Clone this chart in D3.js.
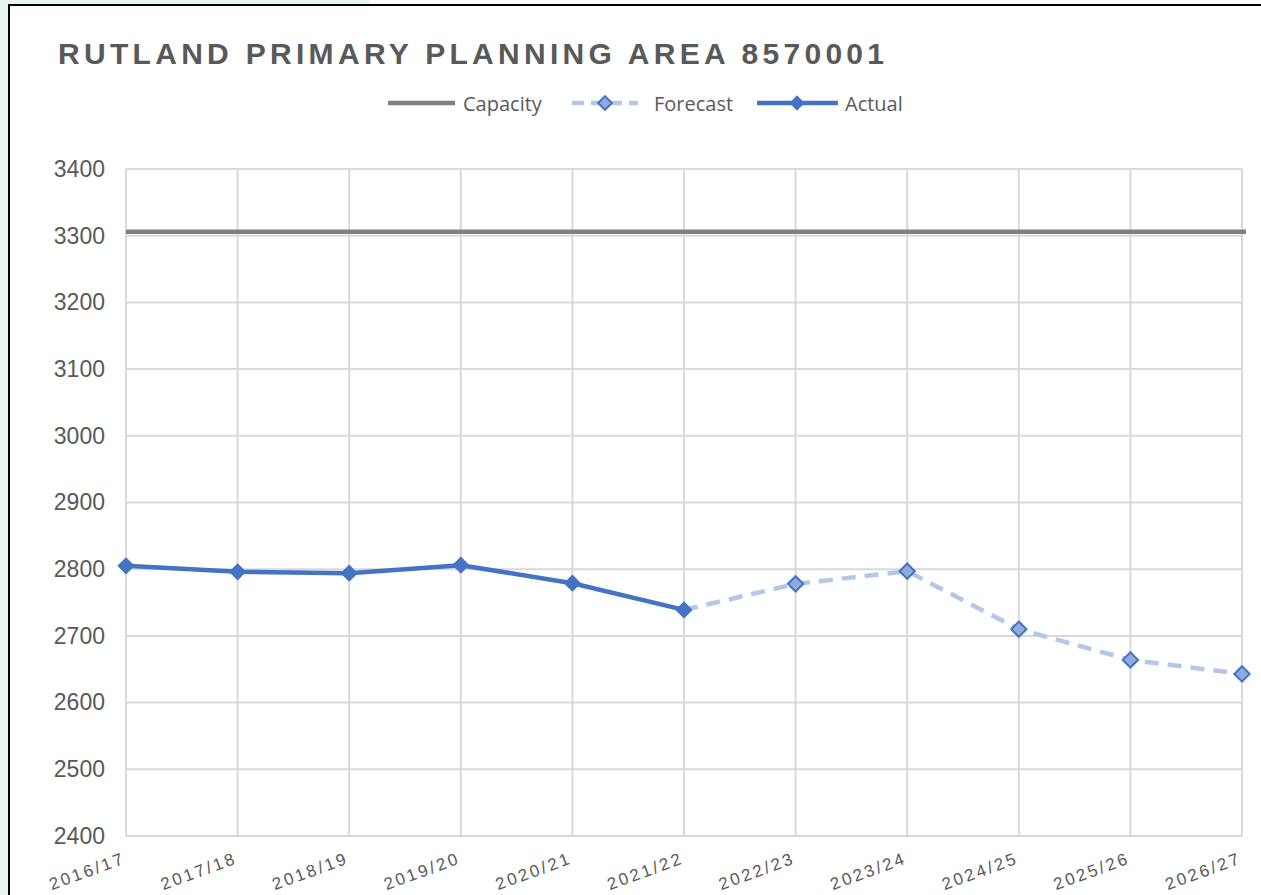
<!DOCTYPE html>
<html>
<head>
<meta charset="utf-8">
<script src="https://cdn.jsdelivr.net/npm/d3@7"></script>
<style>
  body { margin: 0; background: #e8f5f2; }
  svg { display: block; }
</style>
</head>
<body>
<script>
// chart data
var years = ["2016/17", "2017/18", "2018/19", "2019/20", "2020/21", "2021/22",
             "2022/23", "2023/24", "2024/25", "2025/26", "2026/27"];
var capacity = 3306;
var actualYears = ["2016/17", "2017/18", "2018/19", "2019/20", "2020/21", "2021/22"];
var actualValues = [2805, 2796, 2794, 2806, 2779, 2739];
var forecastYears = ["2021/22", "2022/23", "2023/24", "2024/25", "2025/26", "2026/27"];
var forecastValues = [2739, 2778, 2797, 2710, 2664, 2643];
var yTicks = [2400, 2500, 2600, 2700, 2800, 2900, 3000, 3100, 3200, 3300, 3400];

var W = 1261, H = 895;
var margin = {top: 169, right: 19, bottom: 59, left: 126},
    width = W - margin.left - margin.right,
    height = H - margin.top - margin.bottom;

var svg = d3.select("body").append("svg")
    .attr("width", W)
    .attr("height", H);

// white chart panel with black frame
svg.append("rect").attr("x", 0).attr("y", 0).attr("width", 370).attr("height", 4).attr("fill", "#e8f5f2");
svg.append("rect").attr("x", 370).attr("y", 0).attr("width", W - 370).attr("height", 4).attr("fill", "#fff");
svg.append("rect")
    .attr("x", 9).attr("y", 5)
    .attr("width", W).attr("height", H)
    .attr("fill", "#fff")
    .attr("stroke", "#000").attr("stroke-width", 2);

var g = svg.append("g")
    .attr("transform", "translate(" + margin.left + "," + margin.top + ")");

var x = d3.scalePoint().domain(years).range([0, width]);
var y = d3.scaleLinear().domain([2400, 3400]).range([height, 0]);

// gridlines
g.selectAll(".hgrid").data(yTicks).enter().append("line")
    .attr("x1", 0).attr("x2", width)
    .attr("y1", d => y(d)).attr("y2", d => y(d))
    .attr("stroke", "#d9d9d9").attr("stroke-width", 2);
g.selectAll(".vgrid").data(years).enter().append("line")
    .attr("x1", d => x(d)).attr("x2", d => x(d))
    .attr("y1", 0).attr("y2", height)
    .attr("stroke", "#d9d9d9").attr("stroke-width", 2);

// y axis
var yAxis = d3.axisLeft(y).tickValues(yTicks).tickFormat(d3.format("d")).tickSize(0).tickPadding(21);
g.append("g").call(yAxis)
    .call(s => s.select(".domain").remove())
    .selectAll("text")
    .attr("font-family", "Liberation Sans, Arial, sans-serif")
    .attr("font-size", 23)
    .attr("fill", "#595959");

// x axis, rotated labels
var xAxis = d3.axisBottom(x).tickSize(0).tickPadding(0);
g.append("g").attr("transform", "translate(0," + height + ")").call(xAxis)
    .call(s => s.select(".domain").remove())
    .selectAll("text")
    .attr("font-family", "Liberation Sans, Arial, sans-serif")
    .attr("font-size", 17)
    .attr("letter-spacing", 2.6)
    .attr("fill", "#595959")
    .attr("text-anchor", "end")
    .attr("dy", null)
    .attr("y", 0)
    .attr("transform", "translate(0,27) rotate(-20)");

// capacity line
g.append("line")
    .attr("x1", 0).attr("x2", width + 4)
    .attr("y1", y(capacity)).attr("y2", y(capacity))
    .attr("stroke", "#808080").attr("stroke-width", 4.5);

var line = d3.line().x(d => x(d[0])).y(d => y(d[1]));
var diamond = d3.symbol().type(d3.symbolDiamond2);

// forecast
var fData = d3.zip(forecastYears, forecastValues);
g.append("path").datum(fData)
    .attr("d", line)
    .attr("fill", "none")
    .attr("stroke", "#b4c7e7").attr("stroke-width", 4.5)
    .attr("stroke-dasharray", "14,9");

// actual
var aData = d3.zip(actualYears, actualValues);
g.append("path").datum(aData)
    .attr("d", line)
    .attr("fill", "none")
    .attr("stroke", "#4472c4").attr("stroke-width", 4.5)
    .attr("stroke-linejoin", "round");

g.selectAll(".fmark").data(fData.slice(1)).enter().append("path")
    .attr("d", diamond.size(150))
    .attr("transform", d => "translate(" + x(d[0]) + "," + y(d[1]) + ")")
    .attr("fill", "#8faadc").attr("stroke", "#4472c4").attr("stroke-width", 2);

g.selectAll(".amark").data(aData).enter().append("path")
    .attr("d", diamond.size(190))
    .attr("transform", d => "translate(" + x(d[0]) + "," + y(d[1]) + ")")
    .attr("fill", "#4472c4");

// title
svg.append("text")
    .attr("x", 58).attr("y", 64)
    .attr("font-family", "Liberation Sans, Arial, sans-serif")
    .attr("font-weight", "bold")
    .attr("font-size", 30)
    .attr("letter-spacing", 4.3)
    .attr("fill", "#595959")
    .text("RUTLAND PRIMARY PLANNING AREA 8570001");

// legend
var legend = svg.append("g").attr("transform", "translate(0,103)");
legend.append("line").attr("x1", 388).attr("x2", 455).attr("y1", 0).attr("y2", 0)
    .attr("stroke", "#808080").attr("stroke-width", 4.5);
legend.append("text").attr("x", 463).attr("y", 8).text("Capacity");

legend.append("line").attr("x1", 572).attr("x2", 638).attr("y1", 0).attr("y2", 0)
    .attr("stroke", "#b4c7e7").attr("stroke-width", 4.5).attr("stroke-dasharray", "12,7");
legend.append("path").attr("d", diamond.size(120))
    .attr("transform", "translate(605,0)")
    .attr("fill", "#8faadc").attr("stroke", "#4472c4").attr("stroke-width", 2);
legend.append("text").attr("x", 654).attr("y", 8).text("Forecast");

legend.append("line").attr("x1", 757).attr("x2", 838).attr("y1", 0).attr("y2", 0)
    .attr("stroke", "#4472c4").attr("stroke-width", 4.5);
legend.append("path").attr("d", diamond.size(150))
    .attr("transform", "translate(797,0)")
    .attr("fill", "#4472c4");
legend.append("text").attr("x", 845).attr("y", 8).text("Actual");

legend.selectAll("text")
    .attr("font-family", "Open Sans, Liberation Sans, sans-serif")
    .attr("font-size", 20)
    .attr("fill", "#595959");
</script>
</body>
</html>
